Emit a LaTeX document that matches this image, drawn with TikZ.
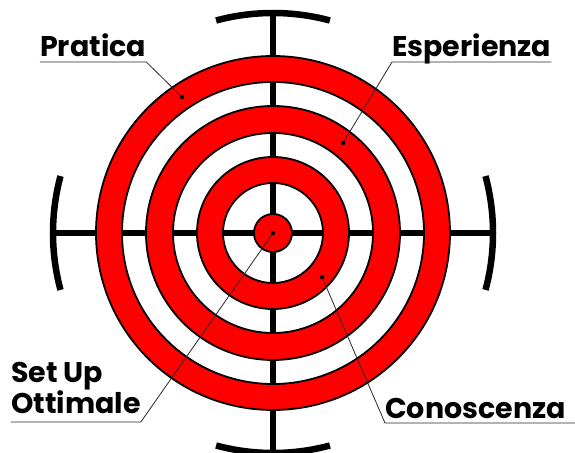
\documentclass[tikz,border=0pt]{standalone}
\usepackage{fontspec}
\setmainfont{Poppins}
\usepackage{tikz}
\usetikzlibrary{positioning}
\definecolor{targetred}{RGB}{255, 0, 0}
\definecolor{leadergray}{RGB}{40, 40, 40}

\tikzset{
    ring/.style={fill=targetred, draw=black, line width=1.8pt, even odd rule},
    crossbar/.style={draw=black, line width=6.5pt},
    tag/.style={inner sep=0pt, font=\fontsize{28.5}{31}\selectfont\bfseries, align=left},
    leader/.style={draw=leadergray, line width=0.8pt},
    pindot/.style={circle, fill=black, inner sep=0pt, minimum size=4.5pt}
}

\begin{document}
\begin{tikzpicture}[x=1pt, y=1pt]
\useasboundingbox (-273,-219) rectangle (302,233);

% crosshair
\draw[crossbar] (0,218) -- (0,-225);
\draw[crossbar] (-220,0) -- (220,0);
\foreach \a in {0,90,180,270}
    \draw[crossbar] ({\a-15}:220pt) arc[start angle=\a-15, end angle=\a+15, radius=220pt];

% rings
\foreach \ro/\ri in {177/151, 127/100, 76/50}
    \path[ring] (0,0) circle (\ro pt) (0,0) circle (\ri pt);
\path[ring] (0,0) circle (19pt);

% dots
\node[pindot] (dotpratica) at (-91,136) {};
\node[pindot] (dotesperienza) at (70,90) {};
\node[pindot] (dotconoscenza) at (49,-44) {};
\node[pindot] (dotsetup) at (0,0) {};

% labels
\node[tag, anchor=base west] (pratica) at (-233,176) {Pratica};
\node[tag, anchor=base west] (esperienza) at (119,176) {Esperienza};
\node[tag, anchor=base west] (conoscenza) at (112,-185) {Conoscenza};
\node[tag, anchor=south west] (setup) at (-262,-181) {Set Up\\Ottimale};

\draw[leader] ([yshift=-5pt]pratica.base west) -- ([yshift=-5pt]pratica.base east) -- (dotpratica);
\draw[leader] ([yshift=-5pt]esperienza.base east) -- ([yshift=-5pt]esperienza.base west) -- (dotesperienza);
\draw[leader] ([xshift=12pt,yshift=-5pt]conoscenza.base east) -- ([yshift=-5pt]conoscenza.base west) -- (dotconoscenza);
\draw[leader] ([yshift=-8pt]setup.south west) -- ([yshift=-8pt]setup.south east) -- (dotsetup);
\end{tikzpicture}
\end{document}
